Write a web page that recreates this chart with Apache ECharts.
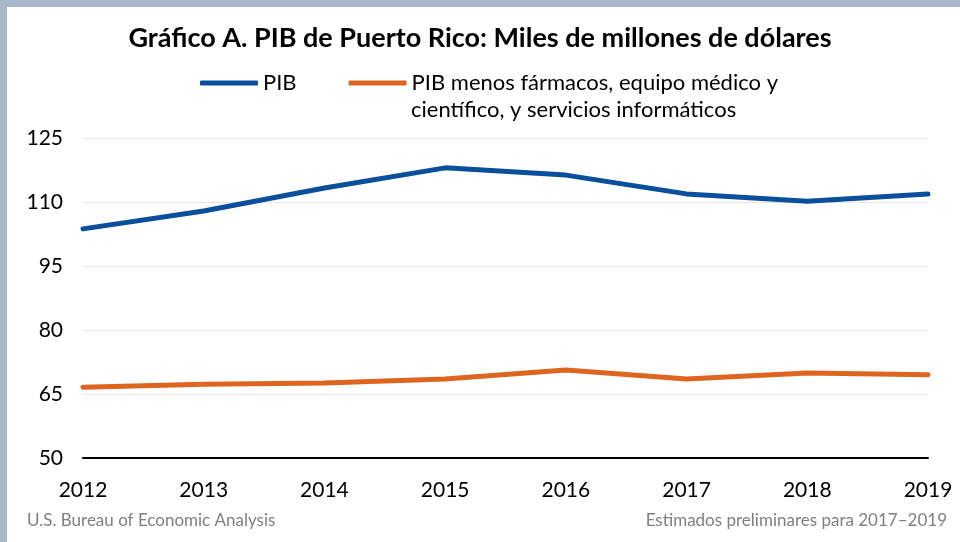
<!DOCTYPE html>
<html>
<head>
<meta charset="utf-8">
<script src="https://cdn.jsdelivr.net/npm/echarts@6/dist/echarts.min.js"></script>
<style>
  html, body { margin: 0; padding: 0; background: #fff; }
  #chart { width: 960px; height: 542px; }
</style>
</head>
<body>
<div id="chart"></div>
<script>
// datos del gráfico
var years = ['2012', '2013', '2014', '2015', '2016', '2017', '2018', '2019'];
var pib = [103.7, 107.9, 113.3, 118.0, 116.3, 111.9, 110.2, 111.9];
var pibMenos = [66.6, 67.3, 67.6, 68.5, 70.6, 68.5, 69.9, 69.5];
var yTicks = [50, 65, 80, 95, 110, 125];
var nombres = ['PIB', 'PIB menos fármacos, equipo médico y científico, y servicios informáticos'];

var font = 'Lato, "Open Sans", sans-serif';
var chart = echarts.init(document.getElementById('chart'));
chart.setOption({
    animation: false,
    backgroundColor: '#fff',
    title: {
        text: 'Gráfico A. PIB de Puerto Rico: Miles de millones de dólares',
        left: 'center', top: 20,
        textStyle: { fontFamily: font, fontSize: 27, fontWeight: 'bold', color: '#000' }
    },
    legend: {
        top: 72, left: 200, padding: 0,
        icon: 'roundRect', itemWidth: 58, itemHeight: 5, itemGap: 52,
        textStyle: { fontFamily: font, fontSize: 22, color: '#000' },
        // el segundo renglón del nombre largo va como texto aparte (abajo)
        formatter: function (name) {
            return name === nombres[1] ? 'PIB menos fármacos, equipo médico y' : name;
        },
        data: nombres
    },
    grid: { left: 83, right: 32, top: 138, bottom: 84 },
    xAxis: {
        type: 'category', boundaryGap: false, data: years,
        axisLine: { lineStyle: { color: '#000', width: 2 } },
        axisTick: { show: false },
        axisLabel: { fontFamily: font, fontSize: 21, color: '#000', margin: 22 }
    },
    yAxis: {
        type: 'value', min: yTicks[0], max: yTicks[yTicks.length - 1], interval: 15,
        axisLine: { show: false }, axisTick: { show: false },
        splitLine: { lineStyle: { color: '#e6e6e6', width: 1 } },
        axisLabel: { fontFamily: font, fontSize: 21, color: '#000', margin: 20 }
    },
    series: [
        { name: nombres[0], type: 'line', data: pib, symbol: 'none',
          lineStyle: { color: '#0a4f9c', width: 5, cap: 'round' }, itemStyle: { color: '#0a4f9c' } },
        { name: nombres[1], type: 'line', data: pibMenos, symbol: 'none',
          lineStyle: { color: '#de6520', width: 5, cap: 'round' }, itemStyle: { color: '#de6520' } }
    ],
    graphic: [
        { type: 'rect', shape: { x: 0, y: 0, width: 960, height: 7 }, style: { fill: '#a9b7cb' } },
        { type: 'rect', shape: { x: 0, y: 0, width: 7, height: 542 }, style: { fill: '#a9b7cb' } },
        { type: 'text', left: 411, top: 99,
          style: { text: 'científico, y servicios informáticos', fill: '#000', font: '22px ' + font } },
        { type: 'text', left: 27, top: 512,
          style: { text: 'U.S. Bureau of Economic Analysis', fill: '#7f7f7f', font: '17px ' + font } },
        { type: 'text', right: 13, top: 512,
          style: { text: 'Estimados preliminares para 2017–2019', fill: '#7f7f7f', font: '17px ' + font } }
    ]
});
</script>
</body>
</html>
